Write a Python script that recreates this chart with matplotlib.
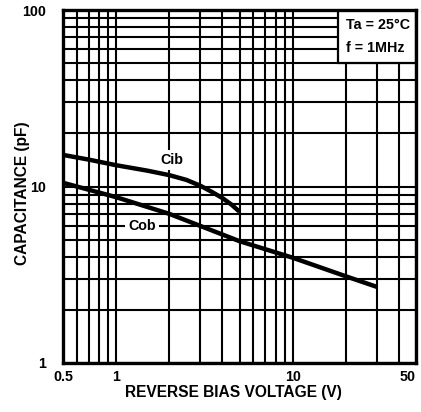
import matplotlib
matplotlib.use("Agg")
import matplotlib.pyplot as plt
from matplotlib.patches import Rectangle
from matplotlib.ticker import FixedLocator, NullFormatter

plt.rcParams['font.family'] = ['Liberation Sans', 'DejaVu Sans']

# Input capacitance vs reverse bias
cib_v = [0.5, 0.7, 1.0, 1.5, 2.0, 2.5, 3.0, 3.5, 4.0, 4.5, 5.0]
cib_c = [15.1, 14.2, 13.2, 12.3, 11.6, 10.9, 10.1, 9.3, 8.6, 7.9, 7.2]

# Output capacitance vs reverse bias
cob_v = [0.5, 1.0, 2.0, 5.0, 10.0, 20.0, 30.0]
cob_c = [10.5, 8.7, 7.0, 4.9, 3.95, 3.1, 2.7]

x_ticks = [0.5, 1, 10, 50]
x_tick_labels = ["0.5", "1", "10", "50"]
y_ticks = [1, 10, 100]
y_tick_labels = ["1", "10", "100"]

x_grid = [0.6, 0.7, 0.8, 0.9, 2, 3, 4, 5, 6, 7, 8, 9, 20, 30, 40]
y_grid = [2, 3, 4, 5, 6, 7, 8, 9, 20, 30, 40, 50, 60, 70, 80, 90]

FS = 10.3
LFS = 11.2

fig = plt.figure(figsize=(4.21, 4.12), dpi=100)
ax = fig.add_axes([63 / 421, 49 / 412, 353 / 421, 353 / 412])
ax.set_xscale('log')
ax.set_yscale('log')
ax.set_xlim(0.5, 50)
ax.set_ylim(1, 100)

ax.xaxis.set_major_locator(FixedLocator(x_ticks))
ax.xaxis.set_minor_locator(FixedLocator(x_grid))
ax.yaxis.set_major_locator(FixedLocator(y_ticks))
ax.yaxis.set_minor_locator(FixedLocator(y_grid))
ax.xaxis.set_minor_formatter(NullFormatter())
ax.yaxis.set_minor_formatter(NullFormatter())
ax.set_xticklabels(x_tick_labels)
ax.set_yticklabels(y_tick_labels)
ax.tick_params(which='both', length=0, labelsize=FS)
ax.tick_params(axis='x', pad=5)
ax.tick_params(axis='y', pad=12)
for lab in ax.get_xticklabels() + ax.get_yticklabels():
    lab.set_fontweight('bold')
ax.get_xticklabels()[-1].set_ha('right')

ax.grid(True, which='both', color='black', linewidth=1.5)
ax.set_axisbelow(True)
for sp in ax.spines.values():
    sp.set_linewidth(2.4)
    sp.set_zorder(6)

ax.plot(cib_v, cib_c, color='black', linewidth=3.2, solid_capstyle='butt', zorder=3)
ax.plot(cob_v, cob_c, color='black', linewidth=3.2, solid_capstyle='butt', zorder=3)

label_box = dict(boxstyle='square,pad=0.2', facecolor='white', edgecolor='none')
ax.text(2.08, 14.1, "Cib", fontsize=FS, fontweight='bold', ha='center', va='center',
        bbox=label_box, zorder=4)
ax.text(1.40, 6.0, "Cob", fontsize=FS, fontweight='bold', ha='center', va='center',
        bbox=label_box, zorder=4)

# Conditions box in the upper-right corner
ax.add_patch(Rectangle((275 / 353, 300 / 353), 78 / 353, 53 / 353, transform=ax.transAxes,
                       facecolor='white', edgecolor='black', linewidth=1.6, zorder=5))
ax.text(283 / 353, 338 / 353, "Ta = 25\u00b0C", transform=ax.transAxes, fontsize=FS,
        fontweight='bold', ha='left', va='center', zorder=6)
ax.text(283 / 353, 315 / 353, "f = 1MHz", transform=ax.transAxes, fontsize=FS,
        fontweight='bold', ha='left', va='center', zorder=6)

ax.set_xlabel("REVERSE BIAS VOLTAGE (V)", fontsize=LFS, fontweight='bold')
ax.set_ylabel("CAPACITANCE (pF)", fontsize=LFS, fontweight='bold')
ax.xaxis.set_label_coords(170 / 353, -29 / 353)
ax.xaxis.label.set_va('center')
ax.yaxis.set_label_coords(-40 / 353, 170 / 353)
ax.yaxis.label.set_va('center')

fig.savefig("out.png", dpi=100)
